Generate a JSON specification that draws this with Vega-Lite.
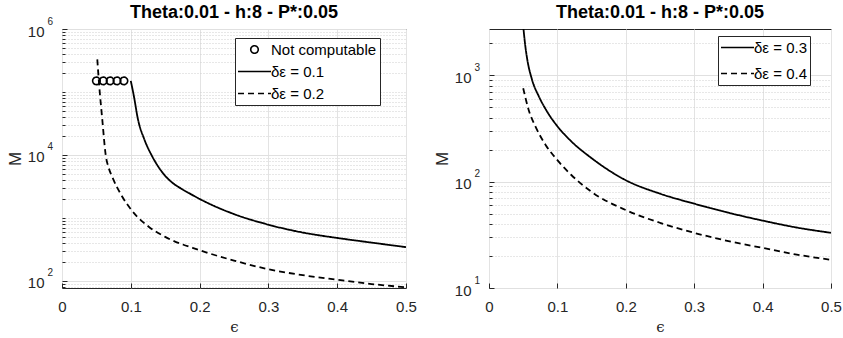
{
  "$schema": "https://vega.github.io/schema/vega-lite/v6.json",
  "background": "white",
  "padding": {"left": 5, "top": 3, "right": 5, "bottom": 1},
  "config": {
    "font": "Liberation Sans",
    "view": {"stroke": "#262626", "strokeWidth": 1},
    "axis": {
      "labelFont": "Liberation Sans", "labelFontSize": 15, "labelColor": "#262626",
      "titleFont": "Liberation Sans", "titleColor": "#262626", "titleFontWeight": "normal",
      "domainColor": "#262626", "tickColor": "#262626",
      "gridColor": "#e3e3e3", "labelFlush": false, "labelOverlap": false
    },
    "title": {"fontSize": 18, "fontWeight": "bold", "color": "#000000", "anchor": "middle", "frame": "group", "baseline": "alphabetic"},
    "legend": {
      "labelFont": "Liberation Sans", "labelFontSize": 15, "labelColor": "#000000",
      "strokeColor": "#262626", "fillColor": "white", "padding": 3, "cornerRadius": 0,
      "symbolSize": 225, "symbolStrokeWidth": 1.6, "symbolStrokeColor": "black", "symbolFillColor": "transparent",
      "symbolOffset": 8, "labelOffset": 8, "columns": 1
    }
  },
  "resolve": {
    "scale": {"strokeDash": "independent", "shape": "independent"},
    "legend": {"strokeDash": "independent", "shape": "independent"}
  },
  "datasets": {
    "L": [
      {"x": 0.05, "M": 150000, "s": "Not computable"},
      {"x": 0.06, "M": 150000, "s": "Not computable"},
      {"x": 0.07, "M": 150000, "s": "Not computable"},
      {"x": 0.08, "M": 150000, "s": "Not computable"},
      {"x": 0.09, "M": 150000, "s": "Not computable"},
      {"x": 0.1, "M": 150000, "s": "δε = 0.1"},
      {"x": 0.105, "M": 80000, "s": "δε = 0.1"},
      {"x": 0.11, "M": 38600, "s": "δε = 0.1"},
      {"x": 0.12, "M": 17300, "s": "δε = 0.1"},
      {"x": 0.13, "M": 10000, "s": "δε = 0.1"},
      {"x": 0.14, "M": 6500, "s": "δε = 0.1"},
      {"x": 0.15, "M": 4650, "s": "δε = 0.1"},
      {"x": 0.16, "M": 3650, "s": "δε = 0.1"},
      {"x": 0.175, "M": 2840, "s": "δε = 0.1"},
      {"x": 0.185, "M": 2460, "s": "δε = 0.1"},
      {"x": 0.2, "M": 2000, "s": "δε = 0.1"},
      {"x": 0.25, "M": 1150, "s": "δε = 0.1"},
      {"x": 0.3, "M": 780, "s": "δε = 0.1"},
      {"x": 0.35, "M": 585, "s": "δε = 0.1"},
      {"x": 0.4, "M": 480, "s": "δε = 0.1"},
      {"x": 0.45, "M": 405, "s": "δε = 0.1"},
      {"x": 0.5, "M": 343, "s": "δε = 0.1"},
      {"x": 0.0513, "M": 330000, "s": "δε = 0.2"},
      {"x": 0.0538, "M": 138000, "s": "δε = 0.2"},
      {"x": 0.0586, "M": 36000, "s": "δε = 0.2"},
      {"x": 0.0635, "M": 10000, "s": "δε = 0.2"},
      {"x": 0.068, "M": 6170, "s": "δε = 0.2"},
      {"x": 0.0728, "M": 4530, "s": "δε = 0.2"},
      {"x": 0.0874, "M": 2190, "s": "δε = 0.2"},
      {"x": 0.102, "M": 1290, "s": "δε = 0.2"},
      {"x": 0.126, "M": 725, "s": "δε = 0.2"},
      {"x": 0.15, "M": 500, "s": "δε = 0.2"},
      {"x": 0.2, "M": 307, "s": "δε = 0.2"},
      {"x": 0.25, "M": 210, "s": "δε = 0.2"},
      {"x": 0.3, "M": 153, "s": "δε = 0.2"},
      {"x": 0.35, "M": 123, "s": "δε = 0.2"},
      {"x": 0.4, "M": 104, "s": "δε = 0.2"},
      {"x": 0.45, "M": 89, "s": "δε = 0.2"},
      {"x": 0.5, "M": 79, "s": "δε = 0.2"}
    ],
    "R": [
      {"x": 0.05, "M": 2900, "s": "δε = 0.3"},
      {"x": 0.053, "M": 1900, "s": "δε = 0.3"},
      {"x": 0.056, "M": 1400, "s": "δε = 0.3"},
      {"x": 0.063, "M": 903, "s": "δε = 0.3"},
      {"x": 0.073, "M": 630, "s": "δε = 0.3"},
      {"x": 0.085, "M": 454, "s": "δε = 0.3"},
      {"x": 0.1, "M": 331, "s": "δε = 0.3"},
      {"x": 0.12, "M": 240, "s": "δε = 0.3"},
      {"x": 0.15, "M": 166, "s": "δε = 0.3"},
      {"x": 0.2, "M": 103, "s": "δε = 0.3"},
      {"x": 0.25, "M": 77, "s": "δε = 0.3"},
      {"x": 0.3, "M": 62, "s": "δε = 0.3"},
      {"x": 0.35, "M": 51, "s": "δε = 0.3"},
      {"x": 0.4, "M": 43, "s": "δε = 0.3"},
      {"x": 0.45, "M": 37, "s": "δε = 0.3"},
      {"x": 0.5, "M": 33, "s": "δε = 0.3"},
      {"x": 0.05, "M": 754, "s": "δε = 0.4"},
      {"x": 0.058, "M": 471, "s": "δε = 0.4"},
      {"x": 0.068, "M": 328, "s": "δε = 0.4"},
      {"x": 0.083, "M": 220, "s": "δε = 0.4"},
      {"x": 0.1, "M": 159, "s": "δε = 0.4"},
      {"x": 0.12, "M": 116, "s": "δε = 0.4"},
      {"x": 0.15, "M": 80, "s": "δε = 0.4"},
      {"x": 0.2, "M": 54, "s": "δε = 0.4"},
      {"x": 0.25, "M": 41, "s": "δε = 0.4"},
      {"x": 0.3, "M": 33, "s": "δε = 0.4"},
      {"x": 0.35, "M": 27.6, "s": "δε = 0.4"},
      {"x": 0.4, "M": 23.8, "s": "δε = 0.4"},
      {"x": 0.45, "M": 20.6, "s": "δε = 0.4"},
      {"x": 0.5, "M": 18.4, "s": "δε = 0.4"}
    ]
  },
  "spacing": 15,
  "hconcat": [
    {
      "width": 344, "height": 259,
      "title": {"text": "Theta:0.01 - h:8 - P*:0.05", "offset": -6},
      "data": {"name": "L"},
      "resolve": {"axis": {"y": "independent"}, "legend": {"strokeDash": "independent", "shape": "independent"}},
      "encoding": {
        "x": {"field": "x", "type": "quantitative",
          "scale": {"domain": [0, 0.5], "nice": false, "zero": false},
          "axis": {"values": [0, 0.1, 0.2, 0.3, 0.4, 0.5], "format": "~g", "title": "ϵ", "titleFont": "DejaVu Serif", "titleFontSize": 15, "titlePadding": 5, "tickSize": -5, "labelPadding": 16, "domain": false}}
      },
      "layer": [
        {
          "transform": [{"filter": "datum.s !== 'Not computable'"}],
          "mark": {"type": "line", "color": "black", "strokeWidth": 1.8, "interpolate": "monotone", "clip": true},
          "encoding": {
            "y": {"field": "M", "type": "quantitative",
              "scale": {"type": "log", "domain": [77, 1000000], "nice": false},
              "axis": {
                "orient": "left",
                "values": [80, 90, 100, 200, 300, 400, 500, 600, 700, 800, 900, 1000, 2000, 3000, 4000, 5000, 6000, 7000, 8000, 9000, 10000, 20000, 30000, 40000, 50000, 60000, 70000, 80000, 90000, 100000, 200000, 300000, 400000, 500000, 600000, 700000, 800000, 900000, 1000000],
                "labelExpr": "indexof([100, 10000, 1000000], datum.value) >= 0 ? '10' : ''",
                "gridDash": {"condition": {"test": "indexof([100, 10000, 1000000], datum.value) < 0", "value": [1, 2]}, "value": []},
                "gridColor": {"condition": {"test": "indexof([100, 10000, 1000000], datum.value) < 0", "value": "#cfcfcf"}, "value": "#e0e0e0"},
                "tickSize": {"condition": {"test": "indexof([100, 10000, 1000000], datum.value) < 0", "value": -3}, "value": -5},
                "labelBaseline": "middle", "labelOffset": 2,
                "title": "M", "titleFontSize": 17, "titlePadding": 3, "labelPadding": 23, "domain": false}},
            "strokeDash": {"field": "s", "type": "nominal",
              "scale": {"domain": ["Not computable", "δε = 0.1", "δε = 0.2"], "range": [[1, 0], [1, 0], [6, 4]]},
              "legend": null}
          }
        },
        {
          "transform": [{"filter": "datum.s === 'Not computable'"}],
          "mark": {"type": "point", "filled": false, "color": "black", "strokeWidth": 1.6, "size": 225, "opacity": 1},
          "encoding": {
            "y": {"field": "M", "type": "quantitative",
              "scale": {"type": "log", "domain": [77, 1000000], "nice": false},
              "axis": {
                "orient": "left",
                "values": [100, 10000, 1000000],
                "labelExpr": "'' + round(log(datum.value) / LN10)",
                "labelFontSize": 10, "labelAlign": "left", "labelBaseline": "middle", "labelPadding": 15, "labelOffset": -8,
                "ticks": false, "grid": false, "domain": false, "title": null}},
            "shape": {"field": "s", "type": "nominal",
              "scale": {"domain": ["Not computable", "δε = 0.1", "δε = 0.2"], "range": ["M-0.5,0A0.5,0.5 0 1,1 0.5,0A0.5,0.5 0 1,1 -0.5,0Z", "M-2.2,0H2.2", "M-2.2,0H2.2"]},
              "legend": {"title": null, "orient": "none", "legendX": 173, "legendY": 9, "rowPadding": 5, "labelExpr": "datum.label + '\u00a0\u00a0\u00a0\u00a0\u00a0\u00a0'"}},
            "strokeDash": {"field": "s", "type": "nominal",
              "scale": {"domain": ["Not computable", "δε = 0.1", "δε = 0.2"], "range": [[1, 0], [1, 0], [6, 4]]},
              "legend": {"title": null, "orient": "none", "legendX": 173, "legendY": 9, "rowPadding": 5, "labelExpr": "datum.label + '\u00a0\u00a0\u00a0\u00a0\u00a0\u00a0'"}}
          }
        }
      ]
    },
    {
      "width": 342, "height": 259,
      "title": {"text": "Theta:0.01 - h:8 - P*:0.05", "offset": 4},
      "data": {"name": "R"},
      "resolve": {"axis": {"y": "independent"}, "legend": {"strokeDash": "independent", "shape": "independent"}},
      "encoding": {
        "x": {"field": "x", "type": "quantitative",
          "scale": {"domain": [0, 0.5], "nice": false, "zero": false},
          "axis": {"values": [0, 0.1, 0.2, 0.3, 0.4, 0.5], "format": "~g", "title": "ϵ", "titleFont": "DejaVu Serif", "titleFontSize": 15, "titlePadding": 5, "tickSize": -5, "labelPadding": 16, "domain": false}}
      },
      "layer": [
        {
          "mark": {"type": "line", "color": "black", "strokeWidth": 1.8, "interpolate": "monotone", "clip": true},
          "encoding": {
            "y": {"field": "M", "type": "quantitative",
              "scale": {"type": "log", "domain": [10, 2717], "nice": false},
              "axis": {
                "orient": "left",
                "values": [10, 20, 30, 40, 50, 60, 70, 80, 90, 100, 200, 300, 400, 500, 600, 700, 800, 900, 1000, 2000],
                "labelExpr": "indexof([10, 100, 1000], datum.value) >= 0 ? '10' : ''",
                "gridDash": {"condition": {"test": "indexof([10, 100, 1000], datum.value) < 0", "value": [1, 2]}, "value": []},
                "gridColor": {"condition": {"test": "indexof([10, 100, 1000], datum.value) < 0", "value": "#cfcfcf"}, "value": "#e0e0e0"},
                "tickSize": {"condition": {"test": "indexof([10, 100, 1000], datum.value) < 0", "value": -3}, "value": -5},
                "labelBaseline": "middle", "labelOffset": 2,
                "title": "M", "titleFontSize": 17, "titlePadding": 3, "labelPadding": 23, "domain": false}},
            "strokeDash": {"field": "s", "type": "nominal",
              "scale": {"domain": ["δε = 0.3", "δε = 0.4"], "range": [[1, 0], [6, 4]]},
              "legend": null}
          }
        },
        {
          "mark": {"type": "point", "filled": false, "color": "black", "strokeWidth": 1.6, "size": 225, "opacity": 0},
          "encoding": {
            "y": {"field": "M", "type": "quantitative",
              "scale": {"type": "log", "domain": [10, 2717], "nice": false},
              "axis": {
                "orient": "left",
                "values": [10, 100, 1000],
                "labelExpr": "'' + round(log(datum.value) / LN10)",
                "labelFontSize": 10, "labelAlign": "left", "labelBaseline": "middle", "labelPadding": 15, "labelOffset": -8,
                "ticks": false, "grid": false, "domain": false, "title": null}},
            "shape": {"field": "s", "type": "nominal",
              "scale": {"domain": ["δε = 0.3", "δε = 0.4"], "range": ["M-2.2,0H2.2", "M-2.2,0H2.2"]},
              "legend": {"title": null, "orient": "none", "legendX": 229, "legendY": 7, "rowPadding": 9, "symbolOpacity": 1, "labelExpr": "datum.label + '\u00a0\u00a0\u00a0\u00a0\u00a0'"}},
            "strokeDash": {"field": "s", "type": "nominal",
              "scale": {"domain": ["δε = 0.3", "δε = 0.4"], "range": [[1, 0], [6, 4]]},
              "legend": {"title": null, "orient": "none", "legendX": 229, "legendY": 7, "rowPadding": 9, "symbolOpacity": 1, "labelExpr": "datum.label + '\u00a0\u00a0\u00a0\u00a0\u00a0'"}}
          }
        }
      ]
    }
  ]
}
